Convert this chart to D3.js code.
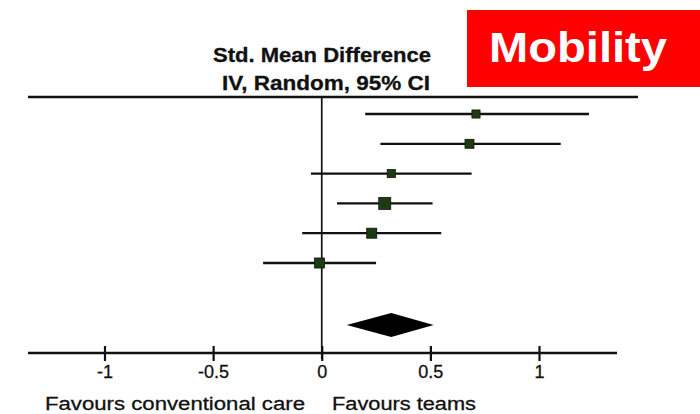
<!DOCTYPE html>
<html>
<head>
<meta charset="utf-8">
<script src="https://cdn.jsdelivr.net/npm/d3@7"></script>
<style>
  html, body { margin: 0; padding: 0; background: #fff; }
  svg { display: block; }
  text { font-family: "Liberation Sans", Arial, sans-serif; }
</style>
</head>
<body>
<svg id="chart" width="700" height="414"></svg>
<script>
// Study-level standardised mean differences (IV, random effects, 95% CI)
const studies   = ["Study 1", "Study 2", "Study 3", "Study 4", "Study 5", "Study 6"];
const estimates = [0.71, 0.68, 0.32, 0.29, 0.23, -0.01];
const lowerCI   = [0.20, 0.27, -0.05, 0.07, -0.09, -0.27];
const upperCI   = [1.23, 1.10, 0.69, 0.51, 0.55, 0.25];
const weights   = [11.5, 14.0, 11.5, 25.0, 17.5, 17.5];

// Pooled estimate
const pooled = { est: 0.32, lo: 0.115, hi: 0.515 };

const tickValues = [-1, -0.5, 0, 0.5, 1];
const tickLabels = ["-1", "-0.5", "0", "0.5", "1"];
const headerLines = ["Std. Mean Difference", "IV, Random, 95% CI"];
const favourLabels = ["Favours conventional care", "Favours teams"];
const panelTitle = "Mobility";

const svg = d3.select("#chart");
const ink = "#111";

const x = d3.scaleLinear().domain([-1, 1]).range([104.5, 539]);
const y = d3.scalePoint().domain(d3.range(studies.length)).range([114, 263]);
const size = d3.scaleSqrt().domain([0, d3.max(weights)]).range([0, 12]);

const topY = 97, axisY = 353, diamondY = 325;

// Panel label
svg.append("rect").attr("x", 467).attr("y", 10).attr("width", 233).attr("height", 77).attr("fill", "#ff0000");
svg.append("text").attr("x", 489).attr("y", 62)
  .attr("font-size", 43).attr("font-weight", "bold").attr("fill", "#fff")
  .attr("textLength", 178).attr("lengthAdjust", "spacingAndGlyphs")
  .text(panelTitle);

// Column header
const headerWidths = [218, 208];
const headerX = [213, 222];
headerLines.forEach((t, i) => {
  svg.append("text").attr("x", headerX[i]).attr("y", 62 + i * 28)
    .attr("font-size", 20).attr("font-weight", "bold").attr("fill", ink)
    .attr("stroke", ink).attr("stroke-width", 0.3)
    .attr("textLength", headerWidths[i]).attr("lengthAdjust", "spacingAndGlyphs")
    .text(t);
});

// Header rule
svg.append("line").attr("x1", 28).attr("x2", 638).attr("y1", topY).attr("y2", topY)
  .attr("stroke", ink).attr("stroke-width", 2.4);

// Line of no effect
svg.append("line").attr("x1", x(0)).attr("x2", x(0)).attr("y1", topY).attr("y2", axisY + 6)
  .attr("stroke", ink).attr("stroke-width", 1.7);

// Confidence intervals and study squares
const rows = svg.append("g");
studies.forEach((s, i) => {
  rows.append("line")
    .attr("x1", x(lowerCI[i])).attr("x2", x(upperCI[i]))
    .attr("y1", y(i)).attr("y2", y(i))
    .attr("stroke", ink).attr("stroke-width", 2.3);
  const w = size(weights[i]);
  rows.append("rect")
    .attr("x", x(estimates[i]) - w / 2).attr("y", y(i) - w / 2)
    .attr("width", w).attr("height", w)
    .attr("fill", "#1e3a12").attr("stroke", "#0d1a08").attr("stroke-width", 0.8);
});

// Pooled diamond
const dh = 12;
svg.append("path")
  .attr("d", `M${x(pooled.lo)},${diamondY} L${x(pooled.est)},${diamondY - dh} L${x(pooled.hi)},${diamondY} L${x(pooled.est)},${diamondY + dh} Z`)
  .attr("fill", "#000");

// Axis
const axis = d3.axisBottom(x).tickValues(tickValues)
  .tickFormat((d, i) => tickLabels[i]).tickSizeInner(7).tickSizeOuter(0).tickPadding(14);
const gAxis = svg.append("g").attr("transform", `translate(0,${axisY})`).call(axis);
gAxis.select(".domain").remove();
gAxis.append("line").attr("x1", 28).attr("x2", 617).attr("y1", 0).attr("y2", 0)
  .attr("stroke", ink).attr("stroke-width", 2.3);
gAxis.selectAll(".tick line").attr("y1", -7).attr("y2", 8).attr("stroke", ink).attr("stroke-width", 2.2);
gAxis.selectAll(".tick text").attr("font-size", 18).attr("fill", ink)
  .attr("stroke", ink).attr("stroke-width", 0.3)
  .attr("font-family", "'Liberation Sans', Arial, sans-serif").attr("dy", "0.2em");

// Direction labels
const favX = [45, 332], favW = [260, 144];
favourLabels.forEach((t, i) => {
  svg.append("text").attr("x", favX[i]).attr("y", 410)
    .attr("font-size", 18).attr("fill", ink)
    .attr("stroke", ink).attr("stroke-width", 0.3)
    .attr("textLength", favW[i]).attr("lengthAdjust", "spacingAndGlyphs")
    .text(t);
});
</script>
</body>
</html>
